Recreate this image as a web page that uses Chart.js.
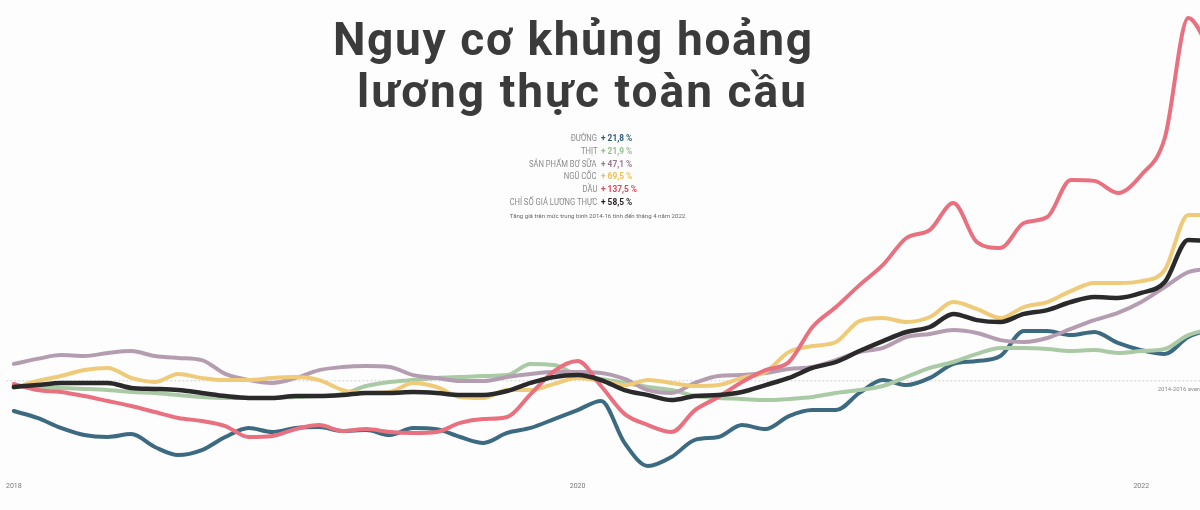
<!DOCTYPE html>
<html><head><meta charset="utf-8">
<script src="https://cdn.jsdelivr.net/npm/chart.js@4.4.1/dist/chart.umd.min.js"></script>
<style>
html,body{margin:0;padding:0;background:#fdfdfd;}
#wrap{position:relative;width:1200px;height:510px;overflow:hidden;background:#fdfdfd;}
#c{position:absolute;left:0;top:0;}
.ov{position:absolute;white-space:nowrap;pointer-events:none;}
.title{color:#3a3b3a;font-family:Roboto,sans-serif;font-weight:700;font-size:46px;}
.nm{color:#8a8a8a;font-family:Roboto,sans-serif;font-weight:400;font-size:9px;transform-origin:100% 50%;}
.vl{font-family:Roboto,sans-serif;font-weight:700;font-size:9px;transform-origin:0 50%;}
.note{color:#666;font-family:Roboto,sans-serif;font-size:6px;transform-origin:50% 50%;}
</style></head>
<body>
<div id="wrap"><canvas id="c" width="1200" height="510"></canvas></div>
<script>
// ---- data (monthly, index 0 = Jan 2018 ... 51 = Apr 2022), 2014-2016 = 100
const titleLines = ['Nguy cơ khủng hoảng', 'lương thực toàn cầu'];
const tickYears = ['2018', '2020', '2022'];
const tickIndex = [0, 24, 48];
const baselineLabel = '2014-2016 average';
const legendNames = ['ĐƯỜNG', 'THỊT', 'SẢN PHẨM BƠ SỮA', 'NGŨ CỐC', 'DẦU', 'CHỈ SỐ GIÁ LƯƠNG THỰC'];
const legendValues = ['+ 21,8 %', '+ 21,9 %', '+ 47,1 %', '+ 69,5 %', '+ 137,5 %', '+ 58,5 %'];
const legendColors = ['#2f5d78', '#93c08d', '#9b7794', '#f0bd55', '#e0475c', '#1f1f1f'];
const noteText = 'Tăng giá trên mức trung bình 2014-16 tính đến tháng 4 năm 2022.';

const months = [];
for (let y = 2018; y <= 2022; y++) for (let m = 1; m <= 12; m++) { if (y === 2022 && m > 4) break; months.push('T' + m + '/' + y); }

const sugar = [87.3,84.4,80.2,77.2,76.4,77.6,72.2,68.8,70.9,76.4,80.2,78.5,
  80.2,80.6,78.9,79.3,77.2,80.2,79.7,76.4,73.9,78.1,80.2,83.9,
  87.7,91.5,73.9,64.2,68.0,75.2,76.4,81.4,79.7,85.2,87.7,87.7,
  94.9,100.3,98.2,101.2,107.1,108.3,110.4,120.9,120.9,119.2,120.5,115.9,
  112.9,111.3,118.4,121.8];
const meat = [97.8,97.4,97.0,96.6,96.1,95.3,94.9,94.0,93.2,92.8,92.8,92.8,
  93.2,93.6,94.5,97.8,99.5,100.3,101.2,101.6,102.0,102.4,107.1,106.6,
  102.4,100.8,99.1,97.4,96.1,93.6,92.8,92.4,91.9,92.4,93.2,94.9,
  96.1,97.8,101.6,105.4,107.9,111.3,113.8,113.8,113.4,112.5,112.9,111.7,
  112.5,113.4,119.2,121.9];
const dairy = [107.1,109.2,110.8,110.4,111.7,112.5,110.4,109.6,108.7,102.9,100.3,99.1,
  101.2,104.5,105.8,106.2,105.8,102.4,101.2,99.9,99.9,101.6,102.9,103.7,
  103.7,103.3,100.8,96.1,94.9,99.1,102.0,102.4,103.3,105.0,105.8,108.7,
  112.1,113.8,118.4,119.7,121.3,120.1,117.1,116.3,118.0,121.8,125.5,128.5,
  133.1,139.4,145.7,147.1];
const cereals = [97.0,99.9,102.0,104.5,105.4,101.2,99.5,102.9,101.2,100.3,100.3,101.2,
  101.6,100.3,96.1,94.9,95.3,99.1,97.4,93.2,92.8,96.1,96.1,98.7,
  101.2,99.9,98.2,100.3,99.1,97.8,98.2,101.2,103.7,112.1,114.6,116.3,
  125.1,126.4,124.7,126.8,133.1,130.2,126.4,131.0,133.1,137.7,141.1,141.1,
  141.9,146.6,169.7,169.5];
const oils = [98.7,96.1,95.3,93.6,91.5,89.4,86.9,84.4,83.1,81.0,76.4,76.8,
  79.7,81.4,78.9,79.7,78.5,78.1,78.5,82.3,83.9,84.8,94.4,104.1,
  108.3,97.8,86.1,81.4,78.5,87.7,93.2,99.5,104.5,107.9,122.6,131.0,
  140.2,148.7,160.0,163.4,174.7,158.3,155.8,166.3,168.8,184.4,184.0,178.9,
  186.5,202.0,252.4,237.5];
const food = [97.4,98.2,99.1,99.1,99.1,97.0,96.6,96.1,94.9,93.6,92.8,92.8,
  93.6,93.6,94.0,94.9,94.9,95.3,94.9,94.0,94.0,95.7,99.1,101.6,
  102.4,100.3,96.1,94.0,91.9,93.6,94.0,95.3,98.2,101.2,105.4,107.9,
  112.5,116.7,120.5,122.6,128.1,125.5,124.7,128.1,129.7,133.1,135.2,134.8,
  136.9,141.5,159.2,158.5];
const baselineValue = 100;

// ---- chart
const pts = arr => arr.map((v, i) => ({x: i, y: v}));
function line(label, arr, color, w) {
  return {label, data: pts(arr), borderColor: color, borderWidth: w, pointRadius: 0,
    cubicInterpolationMode: 'monotone', fill: false, borderCapStyle: 'round', borderJoinStyle: 'round'};
}
const baseLabelPlugin = {
  id: 'baseLabel',
  afterDatasetsDraw(chart) {
    const {ctx, scales: {x, y}} = chart;
    ctx.save();
    ctx.font = '6px Roboto';
    ctx.fillStyle = '#8a8a8a';
    ctx.textBaseline = 'middle';
    ctx.fillText(baselineLabel, x.getPixelForValue(48.7), y.getPixelForValue(baselineValue) + 8.5);
    ctx.restore();
  }
};
new Chart(document.getElementById('c'), {
  type: 'line',
  data: {
    datasets: [
      line('CHỈ SỐ GIÁ LƯƠNG THỰC', food, '#2a2a2a', 4.5),
      line('DẦU', oils, '#e8707f', 4),
      line('NGŨ CỐC', cereals, '#efca78', 4),
      line('SẢN PHẨM BƠ SỮA', dairy, '#b49db1', 4),
      line('THỊT', meat, '#aacaa5', 4),
      line('ĐƯỜNG', sugar, '#3c6a80', 4),
      {label: 'avg', data: [{x: -1, y: baselineValue}, {x: 52, y: baselineValue}], borderColor: '#cfcfcf',
        borderWidth: 1, borderDash: [2, 2], pointRadius: 0}
    ]
  },
  options: {
    responsive: false, animation: false, devicePixelRatio: 1,
    layout: {padding: 0},
    plugins: {legend: {display: false}, tooltip: {enabled: false}, title: {display: false}},
    scales: {
      x: {
        type: 'linear', min: -0.382, max: 50.50,
        grid: {display: false, drawTicks: false}, border: {display: false},
        afterBuildTicks(s) { s.ticks = tickIndex.map(v => ({value: v})); },
        afterFit(s) { s.height = 34; },
        ticks: {padding: 6, maxRotation: 0, autoSkip: false, color: '#7a7a7a', font: {size: 7, family: 'Roboto'},
          callback: v => tickYears[tickIndex.indexOf(v)] ?? ''}
      },
      y: {display: false, min: 60, max: 260}
    }
  },
  plugins: [baseLabelPlugin]
});

// ---- overlay texts
const wrap = document.getElementById('wrap');
const mctx = document.createElement('canvas').getContext('2d');
function metrics(font, txt) { mctx.font = font; return mctx.measureText(txt); }
function addText(txt, cls, color) {
  const d = document.createElement('div'); d.className = 'ov ' + cls; d.textContent = txt;
  if (color) d.style.color = color; wrap.appendChild(d); return d;
}
function baselineTop(font, size, baseline) {
  const m = metrics(font, 'Hg');
  const fa = m.fontBoundingBoxAscent, fd = m.fontBoundingBoxDescent;
  return baseline - ((size - (fa + fd)) / 2 + fa);
}
// title
const titleSpec = [{c: 572.5, b: 55, w: 479}, {c: 581.5, b: 106.5, w: 449}];
titleLines.forEach((t, i) => {
  const f = '700 46px Roboto';
  const d = addText(t, 'title');
  d.style.lineHeight = '46px';
  const nat = metrics(f, t).width;
  const ls = (titleSpec[i].w - nat) / (t.length - 1);
  d.style.letterSpacing = ls + 'px';
  d.style.left = (titleSpec[i].c - titleSpec[i].w / 2) + 'px';
  d.style.top = baselineTop(f, 46, titleSpec[i].b) + 'px';
});
// legend
const nameScale = 88 / metrics('400 9px Roboto', legendNames[5]).width;
const valScale = 36 / metrics('700 9px Roboto', legendValues[4]).width;
legendNames.forEach((n, i) => {
  const cy = 138.3 + i * 12.8;
  const b = cy + 3.2;
  const top = baselineTop('400 9px Roboto', 9, b);
  const dn = addText(n, 'nm'); dn.style.lineHeight = '9px';
  dn.style.right = (1200 - 597) + 'px'; dn.style.top = top + 'px';
  dn.style.transform = 'scaleX(' + nameScale + ')';
  const dv = addText(legendValues[i], 'vl', legendColors[i]); dv.style.lineHeight = '9px';
  dv.style.left = '601px'; dv.style.top = top + 'px';
  dv.style.transform = 'scaleX(' + valScale + ')';
});
// note
const nf = '400 6px Roboto';
const nw = metrics(nf, noteText).width;
const dn = addText(noteText, 'note'); dn.style.lineHeight = '6px';
dn.style.left = (598.5 - nw / 2) + 'px';
dn.style.top = baselineTop(nf, 6, 218) + 'px';
dn.style.transform = 'scaleX(' + (177 / nw) + ')';
</script>
</body></html>
